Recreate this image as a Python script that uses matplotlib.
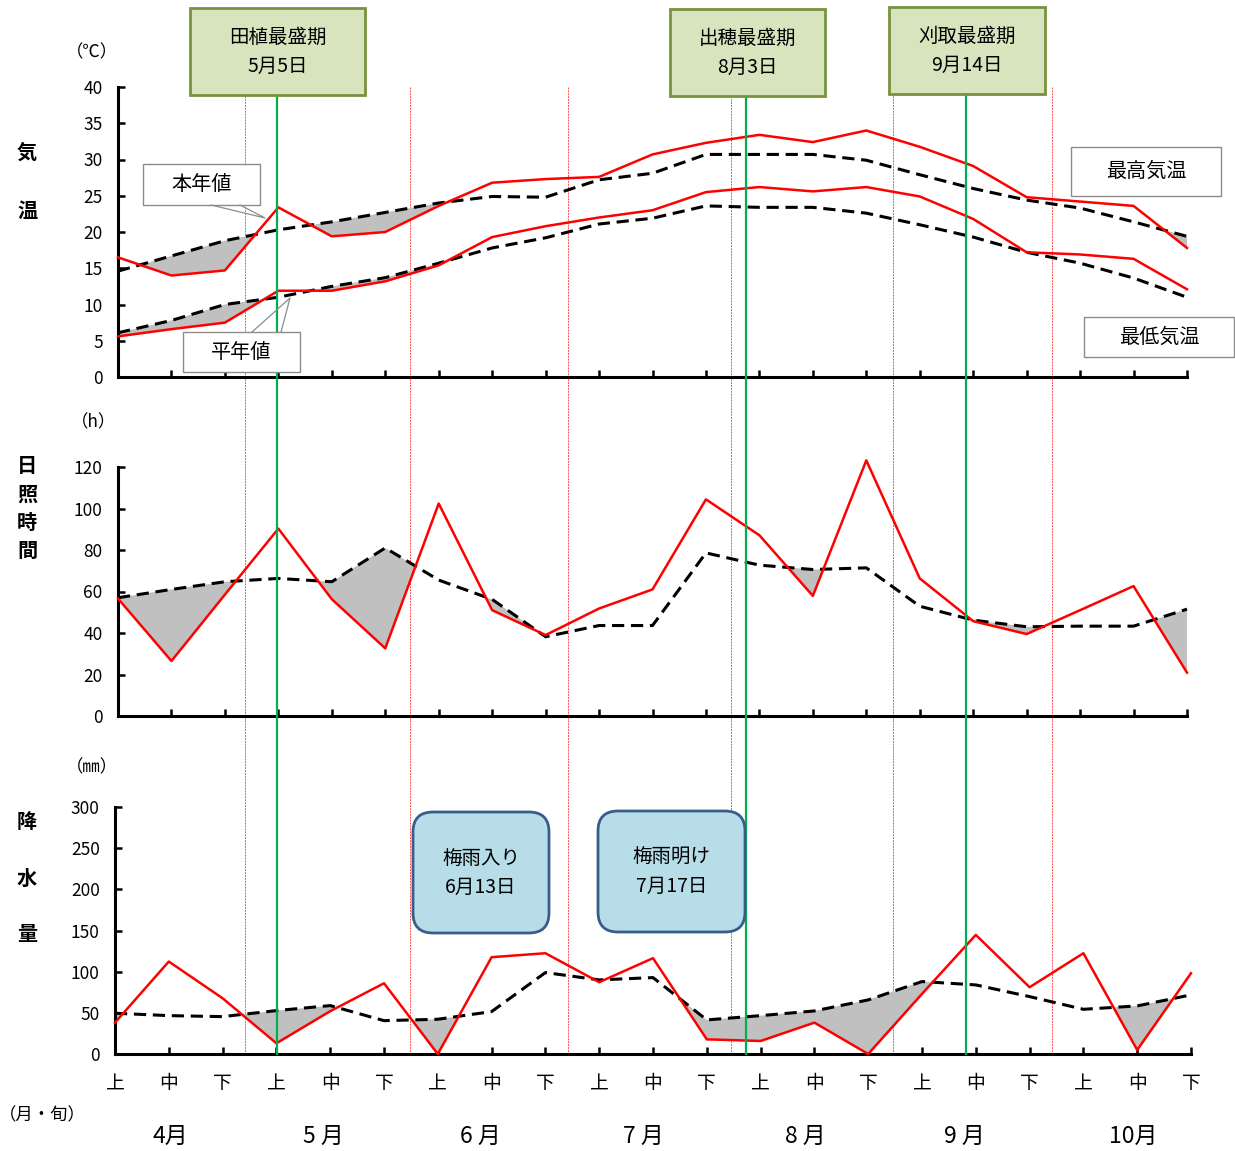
import matplotlib
matplotlib.use("Agg")
import matplotlib.pyplot as plt
from matplotlib.transforms import Affine2D, blended_transform_factory
from matplotlib.patches import Rectangle, FancyBboxPatch
from matplotlib.lines import Line2D
import numpy as np

plt.rcParams['font.family'] = ['Noto Sans CJK JP', 'DejaVu Sans']

# ---------------- data ----------------
dekads = ['上', '中', '下'] * 7
months = ['4月', '5 月', '6 月', '7 月', '8 月', '9 月', '10月']
month_label_pos = [1.02, 3.87, 6.8, 9.83, 12.83, 15.78, 18.92]

tmax_this = [16.5, 14.0, 14.7, 23.4, 19.4, 20.0, 23.6, 26.8, 27.3, 27.6, 30.7,
             32.3, 33.4, 32.4, 34.0, 31.75, 29.1, 24.8, 24.2, 23.6, 17.8]
tmax_norm = [14.6, 16.7, 18.8, 20.3, 21.4, 22.7, 24.0, 24.9, 24.8, 27.2, 28.1,
             30.7, 30.7, 30.7, 29.9, 27.9, 26.0, 24.4, 23.3, 21.4, 19.4]
tmin_this = [5.6, 6.6, 7.5, 11.9, 11.9, 13.2, 15.4, 19.3, 20.8, 22.0, 23.0,
             25.5, 26.2, 25.6, 26.2, 24.9, 21.8, 17.2, 16.9, 16.3, 12.1]
tmin_norm = [6.1, 7.8, 10.0, 11.0, 12.5, 13.7, 15.7, 17.8, 19.2, 21.1, 21.9,
             23.6, 23.4, 23.4, 22.6, 21.0, 19.3, 17.2, 15.7, 13.65, 11.0]

sun_this = [56.6, 26.5, 58.5, 90.3, 56.3, 32.6, 102.4, 51.0, 39.0, 51.8, 61.0,
            104.4, 87.1, 57.9, 123.2, 66.3, 45.7, 39.5, 51.0, 62.6, 20.9]
sun_norm = [57.0, 61.0, 64.7, 66.3, 64.7, 81.0, 65.5, 56.2, 38.2, 43.6, 43.6,
            78.6, 72.7, 70.6, 71.4, 52.9, 46.2, 43.0, 43.3, 43.3, 51.5]

rain_this = [38.1, 112.3, 67.7, 13.0, 52.0, 85.9, 0.0, 117.6, 122.4, 87.2, 116.4,
             17.8, 15.8, 38.1, 0.0, 73.0, 144.7, 81.1, 122.4, 4.9, 98.1]
rain_norm = [49.5, 46.6, 45.4, 52.7, 58.8, 40.5, 42.2, 51.5, 98.9, 90.0, 92.8,
             41.4, 46.6, 52.3, 65.7, 88.0, 83.9, 69.7, 54.3, 58.4, 71.8]

stage_labels = ['田植最盛期\n5月5日', '出穂最盛期\n8月3日', '刈取最盛期\n9月14日']
stage_pos = [2.97, 11.75, 15.87]
month_bounds = [2.38, 5.46, 8.42, 11.47, 14.5, 17.48]
rainy_labels = ['梅雨入り\n6月13日', '梅雨明け\n7月17日']

x = np.arange(len(dekads))

# ---------------- figure ----------------
W, H, DPI = 1235, 1151, 100
fig = plt.figure(figsize=(W / DPI, H / DPI), dpi=DPI)
# pixel (origin top-left) transform
PX = Affine2D().scale(1 / DPI, -1 / DPI).translate(0, H / DPI) + fig.dpi_scale_trans


def add_axes_px(left, right, top, bottom):
    return fig.add_axes([left / W, 1 - bottom / H, (right - left) / W, (bottom - top) / H])


ax1 = add_axes_px(118, 1187, 87, 377)
ax2 = add_axes_px(118, 1187, 467, 716)
ax3 = add_axes_px(115, 1191, 807, 1054)

RED = '#ff0000'
GRAY = '#c0c0c0'
for ax in (ax1, ax2, ax3):
    ax.patch.set_visible(False)
    for s in ('top', 'right'):
        ax.spines[s].set_visible(False)
    for s in ('left', 'bottom'):
        ax.spines[s].set_linewidth(2.2)
        ax.spines[s].set_color('black')
    ax.set_xlim(0, len(dekads) - 1)
    ax.set_xticks(x)
    ax.tick_params(direction='in', length=5, width=1.8, labelsize=12.5, pad=11)
    ax.tick_params(axis='x', labelbottom=False)


def draw_pair(ax, this, norm):
    this = np.asarray(this)
    norm = np.asarray(norm)
    ax.fill_between(x, this, norm, where=this < norm, interpolate=True,
                    color=GRAY, lw=0, zorder=2)
    ax.plot(x, norm, color='black', lw=2.2, dashes=(4, 2.2), zorder=3, clip_on=False)
    ax.plot(x, this, color=RED, lw=1.8, zorder=4, clip_on=False)


draw_pair(ax1, tmax_this, tmax_norm)
draw_pair(ax1, tmin_this, tmin_norm)
ax1.set_ylim(0, 40)
ax1.set_yticks(np.arange(0, 41, 5))

draw_pair(ax2, sun_this, sun_norm)
ax2.set_ylim(0, 120)
ax2.set_yticks(np.arange(0, 121, 20))

draw_pair(ax3, rain_this, rain_norm)
ax3.set_ylim(0, 300)
ax3.set_yticks(np.arange(0, 301, 50))
ax3.tick_params(axis='x', labelbottom=True, labelsize=13.5, pad=14)
ax3.set_xticklabels(dekads)

# month labels
for pos, m in zip(month_label_pos, months):
    ax3.annotate(m, xy=(pos, 0), xycoords=('data', 'axes fraction'),
                 xytext=(0, -82), textcoords='offset pixels',
                 ha='center', va='center', fontsize=16.5)

# ---------------- vertical marker lines ----------------
vtrans = blended_transform_factory(ax1.transData, PX)
for b in month_bounds:
    fig.add_artist(Line2D([b, b], [87, 1054], transform=vtrans, color='#ff5050',
                          lw=0.7, ls=(0, (2, 1)), zorder=-1))
for p in stage_pos:
    fig.add_artist(Line2D([p, p], [95, 1054], transform=vtrans, color='#00b050',
                          lw=1.6, zorder=5))

# ---------------- stage boxes ----------------
stage_boxes = [(190, 365, 8, 95), (670, 825, 9, 96), (889, 1045, 7, 94)]
for (l, r, t, b), lab in zip(stage_boxes, stage_labels):
    fig.add_artist(Rectangle((l, b), r - l, t - b, transform=PX, facecolor='#d7e4bd',
                             edgecolor='#77933c', lw=2, zorder=6))
    fig.text((l + r) / 2 / W, 1 - (t + b) / 2 / H, lab, ha='center', va='center',
             fontsize=14, linespacing=1.5, zorder=7)

# ---------------- rainy season boxes ----------------
rainy_boxes = [(413, 549, 812, 933), (598, 745, 811, 932)]
for (l, r, t, b), lab in zip(rainy_boxes, rainy_labels):
    fig.add_artist(FancyBboxPatch((l, t), r - l, b - t, transform=PX,
                                  boxstyle='round,pad=0,rounding_size=20',
                                  facecolor='#b7dde8',
                                  edgecolor='#385d8a', lw=2, zorder=6))
    fig.text((l + r) / 2 / W, 1 - (t + b) / 2 / H, lab, ha='center', va='center',
             fontsize=14, linespacing=1.5, zorder=7)

# ---------------- callout / legend boxes ----------------
def label_box(l, r, t, b, text, size=14.5):
    fig.add_artist(Rectangle((l, b), r - l, t - b, transform=PX, facecolor='white',
                             edgecolor='#8c8c8c', lw=1, zorder=6))
    fig.text((l + r) / 2 / W, 1 - (t + b) / 2 / H, text, ha='center', va='center',
             fontsize=size, zorder=7)


label_box(143, 260, 164, 205, '本年値')
fig.add_artist(Line2D([211, 265, 240], [205, 218, 205], transform=PX,
                      color='#8c8c8c', lw=0.9, zorder=6))
label_box(183, 300, 332, 372, '平年値')
fig.add_artist(Line2D([252, 290, 281], [332, 298, 332], transform=PX,
                      color='#8c8c8c', lw=0.9, zorder=6))
label_box(1071, 1221, 147, 196, '最高気温')
label_box(1084, 1234, 317, 357, '最低気温')

# ---------------- axis titles ----------------
def ftext(px, py, s, size=13, **kw):
    fig.text(px / W, 1 - py / H, s, ha='center', va='center', fontsize=size, **kw)


ftext(92, 52, '（℃）', 12.5)
ftext(27, 152, '気', 14.5, fontweight='bold')
ftext(27, 210, '温', 14.5, fontweight='bold')
ftext(94, 422, '（h）', 12.5)
for i, ch in enumerate('日照時間'):
    ftext(27, 466 + 28 * i, ch, 14.5, fontweight='bold')
ftext(92, 767, '（㎜）', 12.5)
for i, ch in enumerate('降水量'):
    ftext(27, 822 + 56 * i, ch, 14.5, fontweight='bold')
ftext(42, 1115, '（月・旬）', 12.5)

fig.savefig('out.png', dpi=DPI)
